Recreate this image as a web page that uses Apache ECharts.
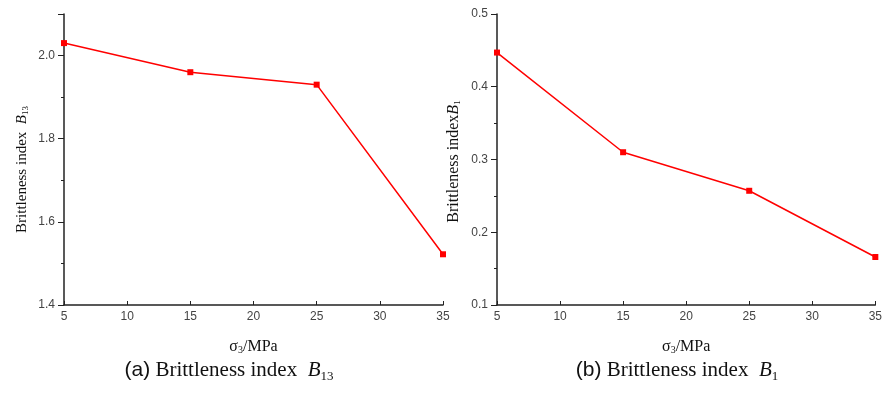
<!DOCTYPE html>
<html><head><meta charset="utf-8">
<script src="https://cdn.jsdelivr.net/npm/echarts@6/dist/echarts.min.js"></script>
<style>html,body{margin:0;padding:0;background:#fff}#c{width:885px;height:410px}</style>
</head><body><div id="c"></div>
<script>
const sigma3 = [5, 15, 25, 35];
const b13 = [2.03, 1.96, 1.93, 1.522];
const b1 = [0.447, 0.31, 0.257, 0.166];

const chart = echarts.init(document.getElementById('c'), null, {renderer: 'canvas'});
const sans = 'Liberation Sans';
const serif = 'Liberation Serif';
const axisCol = '#222';

function xAxis(gi) {
  return {
    type: 'value', gridIndex: gi, min: 5, max: 35, interval: 5,
    name: '{s|σ}{sub|3}{s|/MPa}', nameLocation: 'middle', nameGap: 33,
    nameTextStyle: {rich: {s: {fontFamily: serif, fontSize: 16, color: '#111'}, sub: {fontFamily: serif, fontSize: 10, color: '#111', verticalAlign: 'bottom', padding: [7, 0, 0, 0]}}},
    axisLine: {show: true, lineStyle: {color: axisCol, width: 1.5}},
    axisTick: {show: true, inside: true, length: 4, lineStyle: {color: axisCol, width: 1}},
    splitLine: {show: false},
    axisLabel: {fontFamily: sans, fontSize: 12, color: '#444', margin: 6, showMinLabel: true, showMaxLabel: true}
  };
}
function yAxis(gi, min, max, interval, label, sub, gap, fs, pad) {
  return {
    type: 'value', gridIndex: gi, min: min, max: max, interval: interval,
    name: '{s|' + label + '}{i|B}{sub|' + sub + '}', nameLocation: 'middle', nameGap: gap,
    nameTextStyle: {padding: pad, rich: {s: {fontFamily: serif, fontSize: fs, color: '#111'}, i: {fontFamily: serif, fontStyle: 'italic', fontSize: fs, color: '#111'}, sub: {fontFamily: serif, fontSize: 9, color: '#111', verticalAlign: 'bottom', padding: [7, 0, 0, 0]}}},
    axisLine: {show: true, onZero: false, lineStyle: {color: axisCol, width: 1.5}},
    axisTick: {show: true, length: 6, lineStyle: {color: axisCol, width: 1}},
    minorTick: {show: true, splitNumber: 2, length: 3, lineStyle: {color: axisCol, width: 1}},
    splitLine: {show: false},
    axisLabel: {fontFamily: sans, fontSize: 12, color: '#444', margin: 9, formatter: v => v.toFixed(1), showMaxLabel: gi === 1}
  };
}
function series(gi, data) {
  return {
    type: 'line', xAxisIndex: gi, yAxisIndex: gi,
    data: sigma3.map((x, i) => [x, data[i]]),
    symbol: 'rect', symbolSize: 6, showSymbol: true,
    lineStyle: {color: '#ff0000', width: 1.5},
    itemStyle: {color: '#ff0000'},
    animation: false, clip: false
  };
}
function caption(x, tag, sub) {
  return {type: 'text', x: x, y: 370, style: {
    text: '{a|' + tag + '}{s| Brittleness index  }{i|B}{sub|' + sub + '}', align: 'center', verticalAlign: 'middle',
    rich: {a: {fontFamily: sans, fontSize: 21, fill: '#111'}, s: {fontFamily: serif, fontSize: 21, fill: '#111'},
      i: {fontFamily: serif, fontStyle: 'italic', fontSize: 21, fill: '#111'},
      sub: {fontFamily: serif, fontSize: 13, fill: '#111', verticalAlign: 'bottom', padding: [13, 0, 0, 0]}}}};
}

chart.setOption({
  backgroundColor: '#fff',
  animation: false,
  grid: [
    {left: 64, top: 14, width: 379, height: 291},
    {left: 497, top: 14, width: 380, height: 291}
  ],
  xAxis: [xAxis(0), xAxis(1)],
  yAxis: [
    yAxis(0, 1.4, 2.1, 0.2, 'Brittleness index  ', '13', 34, 15, [0, 20, 0, 0]),
    yAxis(1, 0.1, 0.5, 0.1, 'Brittleness index', '1', 35, 16, [0, 4, 0, 0])
  ],
  series: [series(0, b13), series(1, b1)],
  graphic: [caption(229, '(a)', '13'), caption(677, '(b)', '1')]
});
</script></body></html>
